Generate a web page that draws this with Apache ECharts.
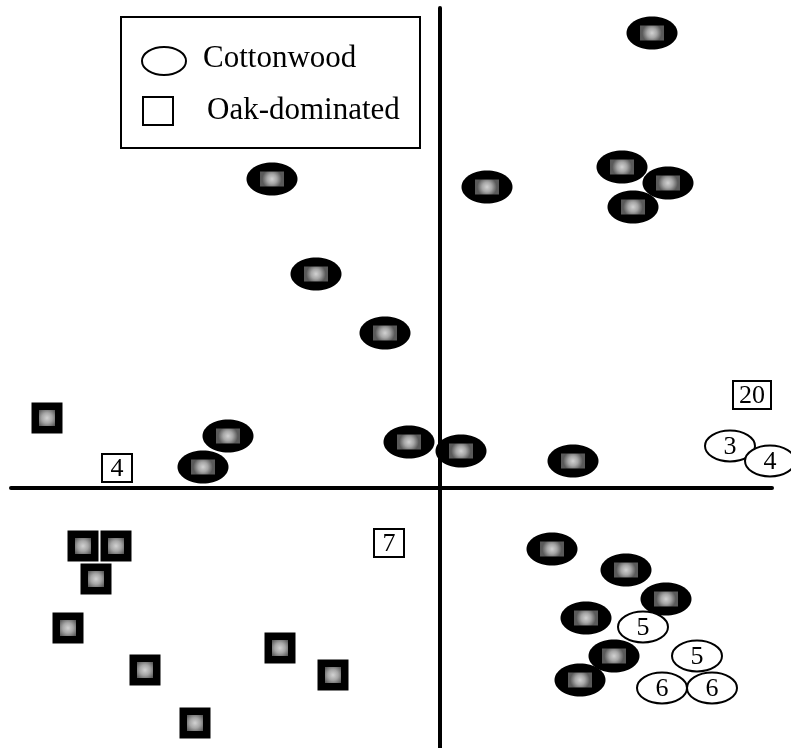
<!DOCTYPE html>
<html>
<head>
<meta charset="utf-8">
<script src="https://cdn.jsdelivr.net/npm/echarts@6/dist/echarts.min.js"></script>
<style>
html,body{margin:0;padding:0;background:#fff;}
#chart{width:791px;height:748px;}
</style>
</head>
<body>
<div id="chart"></div>
<script>
// Ordination scores (axis 1, axis 2)
const cottonwoodFilled = [
  [2.12, 4.55], [-1.68, 3.09], [0.47, 3.01], [1.82, 3.21], [2.28, 3.05],
  [1.93, 2.81], [-1.24, 2.14], [-0.55, 1.55], [-2.12, 0.52], [-2.37, 0.21],
  [-0.31, 0.46], [0.21, 0.37], [1.33, 0.27], [1.12, -0.61], [1.86, -0.82],
  [2.26, -1.11], [1.46, -1.30], [1.74, -1.68], [1.40, -1.92]
];
const cottonwoodOpen = [
  [2.90, 0.42, '3'], [3.30, 0.27, '4'], [2.03, -1.39, '5'],
  [2.57, -1.68, '5'], [2.22, -2.00, '6'], [2.72, -2.00, '6']
];
const oakFilled = [
  [-3.93, 0.70], [-3.57, -0.58], [-3.24, -0.58], [-3.44, -0.91],
  [-3.72, -1.40], [-2.95, -1.82], [-1.60, -1.60], [-1.07, -1.87], [-2.45, -2.35]
];
const oakOpen = [
  [3.12, 0.93, '20'], [-3.23, 0.20, '4'], [-0.51, -0.55, '7']
];
const legendItems = ['Cottonwood', 'Oak-dominated'];

const SERIF = '"Liberation Serif", "Times New Roman", serif';
function grayCenter() {
  return {
    type: 'radial', x: 0.5, y: 0.5, r: 0.65,
    colorStops: [
      {offset: 0, color: '#d2d2d2'},
      {offset: 0.5, color: '#a6a6a6'},
      {offset: 1, color: '#5a5a5a'}
    ]
  };
}

const chart = echarts.init(document.getElementById('chart'));
chart.setOption({
  backgroundColor: '#fff',
  animation: false,
  grid: {left: 11, right: 19, top: 8, bottom: 0},
  xAxis: {
    type: 'value', min: -4.29, max: 3.32,
    axisLine: {show: true, onZero: true, lineStyle: {color: '#000', width: 4}},
    axisTick: {show: false}, axisLabel: {show: false}, splitLine: {show: false}
  },
  yAxis: {
    type: 'value', min: -2.60, max: 4.80,
    axisLine: {show: true, onZero: true, lineStyle: {color: '#000', width: 4}},
    axisTick: {show: false}, axisLabel: {show: false}, splitLine: {show: false}
  },
  graphic: [
    {type: 'rect', shape: {x: 121, y: 17, width: 299, height: 131},
     style: {fill: '#fff', stroke: '#000', lineWidth: 2}, z: 100},
    {type: 'ellipse', shape: {cx: 164, cy: 61, rx: 22, ry: 14},
     style: {fill: '#fff', stroke: '#000', lineWidth: 2}, z: 101},
    {type: 'text', x: 203, y: 59, style: {text: legendItems[0], font: '31px ' + SERIF,
     fill: '#000', textVerticalAlign: 'middle', textBaseline: 'middle'}, z: 101},
    {type: 'rect', shape: {x: 143, y: 97, width: 30, height: 28},
     style: {fill: '#fff', stroke: '#000', lineWidth: 2}, z: 101},
    {type: 'text', x: 207, y: 111, style: {text: legendItems[1], font: '31px ' + SERIF,
     fill: '#000', textVerticalAlign: 'middle', textBaseline: 'middle'}, z: 101}
  ],
  series: [
    {
      type: 'custom', data: cottonwoodFilled, z: 3,
      renderItem: function (params, api) {
        const p = api.coord([api.value(0), api.value(1)]);
        return {type: 'group', children: [
          {type: 'ellipse', shape: {cx: p[0], cy: p[1], rx: 25.5, ry: 16.5}, style: {fill: '#000'}},
          {type: 'rect', shape: {x: p[0] - 12, y: p[1] - 7.5, width: 24, height: 15}, style: {fill: grayCenter()}}
        ]};
      }
    },
    {
      type: 'custom', data: oakFilled, z: 3,
      renderItem: function (params, api) {
        const p = api.coord([api.value(0), api.value(1)]);
        return {type: 'group', children: [
          {type: 'rect', shape: {x: p[0] - 15.5, y: p[1] - 15.5, width: 31, height: 31}, style: {fill: '#000'}},
          {type: 'rect', shape: {x: p[0] - 8, y: p[1] - 8, width: 16, height: 16}, style: {fill: grayCenter()}}
        ]};
      }
    },
    {
      type: 'custom', data: cottonwoodOpen, z: 4,
      renderItem: function (params, api) {
        const p = api.coord([api.value(0), api.value(1)]);
        const lab = cottonwoodOpen[params.dataIndex][2];
        return {type: 'group', children: [
          {type: 'ellipse', shape: {cx: p[0], cy: p[1], rx: 25, ry: 15.5},
           style: {fill: '#fff', stroke: '#000', lineWidth: 2}},
          {type: 'text', x: p[0], y: p[1] + 1, style: {text: lab, font: '26px ' + SERIF, fill: '#000',
           textAlign: 'center', textVerticalAlign: 'middle', align: 'center', verticalAlign: 'middle'}}
        ]};
      }
    },
    {
      type: 'custom', data: oakOpen, z: 4,
      renderItem: function (params, api) {
        const p = api.coord([api.value(0), api.value(1)]);
        const lab = oakOpen[params.dataIndex][2];
        const w = lab.length > 1 ? 38 : 30;
        return {type: 'group', children: [
          {type: 'rect', shape: {x: p[0] - w / 2, y: p[1] - 14, width: w, height: 28},
           style: {fill: '#fff', stroke: '#000', lineWidth: 2}},
          {type: 'text', x: p[0], y: p[1] + 1, style: {text: lab, font: '26px ' + SERIF, fill: '#000',
           textAlign: 'center', textVerticalAlign: 'middle', align: 'center', verticalAlign: 'middle'}}
        ]};
      }
    }
  ]
});
</script>
</body>
</html>
